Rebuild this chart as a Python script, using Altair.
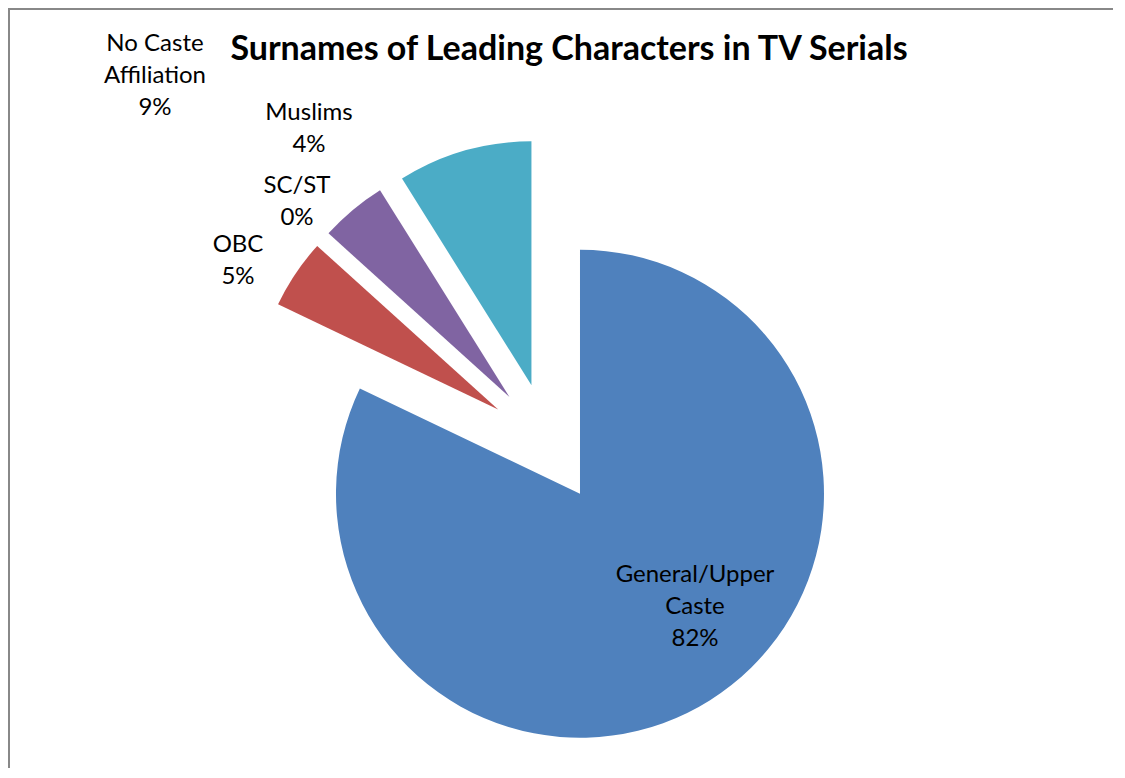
import math
import altair as alt
import pandas as pd

# ---- data ----
categories = ["General/Upper Caste", "OBC", "SC/ST", "Muslims", "No Caste Affiliation"]
values = [82.1, 4.6, 0.0, 4.4, 8.9]
label_names = ["General/Upper\nCaste", "OBC", "SC/ST", "Muslims", "No Caste\nAffiliation"]
colors = ["#4F81BD", "#C0504D", "#9BBB59", "#8064A2", "#4BACC6"]
title_text = "Surnames of Leading Characters in TV Serials"

# ---- layout ----
W, H = 1105, 760
CX, CY = 540, 435          # pie centre inside the view
R = 244                    # pie radius
EXPLODE = 60               # explosion distance of every slice
label_dx = [147, -310, -251, -239, -393]   # first-line label positions relative to pie centre
label_dy = [-132, 198, 257, 330, 399]
FONT = "Lato"

df = pd.DataFrame({
    "cat": categories,
    "value": values,
    "name": label_names,
    "order": list(range(len(categories))),
    "ldx": label_dx,
    "ldy": label_dy,
})

xs = alt.Scale(domain=[-CX, W - CX])
ys = alt.Scale(domain=[-(H - CY), CY])

base = (
    alt.Chart(df)
    .transform_joinaggregate(total="sum(value)")
    .transform_window(cum="sum(value)", sort=[alt.SortField("order")], frame=[None, 0])
    .transform_calculate(
        a0="(datum.cum - datum.value) / datum.total",
        a1="datum.cum / datum.total",
    )
    .transform_calculate(
        mid="PI * (datum.a0 + datum.a1)",
        pct="format(datum.value / datum.total, '.0%')",
    )
    .transform_calculate(
        ex=f"{EXPLODE} * sin(datum.mid)",
        ey=f"{EXPLODE} * cos(datum.mid)",
        label="datum.name + '\\n' + datum.pct",
    )
)

arcs = base.mark_arc(radius=R).encode(
    theta=alt.Theta("a0:Q", stack=False, scale=alt.Scale(domain=[0, 1], range=[0, 2 * math.pi])),
    theta2="a1:Q",
    x=alt.X("ex:Q", scale=xs, axis=None),
    y=alt.Y("ey:Q", scale=ys, axis=None),
    color=alt.Color("cat:N", scale=alt.Scale(domain=categories, range=colors), legend=None),
)

labels = base.mark_text(
    font=FONT, fontSize=24, lineBreak="\n", lineHeight=32,
    baseline="middle", align="center", color="black",
).encode(
    x=alt.X("ldx:Q", scale=xs, axis=None),
    y=alt.Y("ldy:Q", scale=ys, axis=None),
    text="label:N",
)

title = alt.Chart(pd.DataFrame({"t": [title_text]})).mark_text(
    font=FONT, fontSize=34, fontWeight="bold", align="center", baseline="alphabetic", color="black",
).encode(x=alt.value(561), y=alt.value(52), text="t:N")

dummy = pd.DataFrame({"d": [0]})
border_top = alt.Chart(dummy).mark_rule(color="#888888", strokeWidth=2).encode(
    x=alt.value(0), x2=alt.value(W), y=alt.value(1)
)
border_left = alt.Chart(dummy).mark_rule(color="#888888", strokeWidth=2).encode(
    x=alt.value(1), y=alt.value(0), y2=alt.value(H)
)

chart = (
    alt.layer(arcs, labels, title, border_top, border_left)
    .properties(width=W, height=H, padding=0, autosize=alt.AutoSizeParams(type="none"))
    .configure_view(stroke=None)
)

chart.save("out.html", embed_options={"renderer": "svg", "actions": False})
